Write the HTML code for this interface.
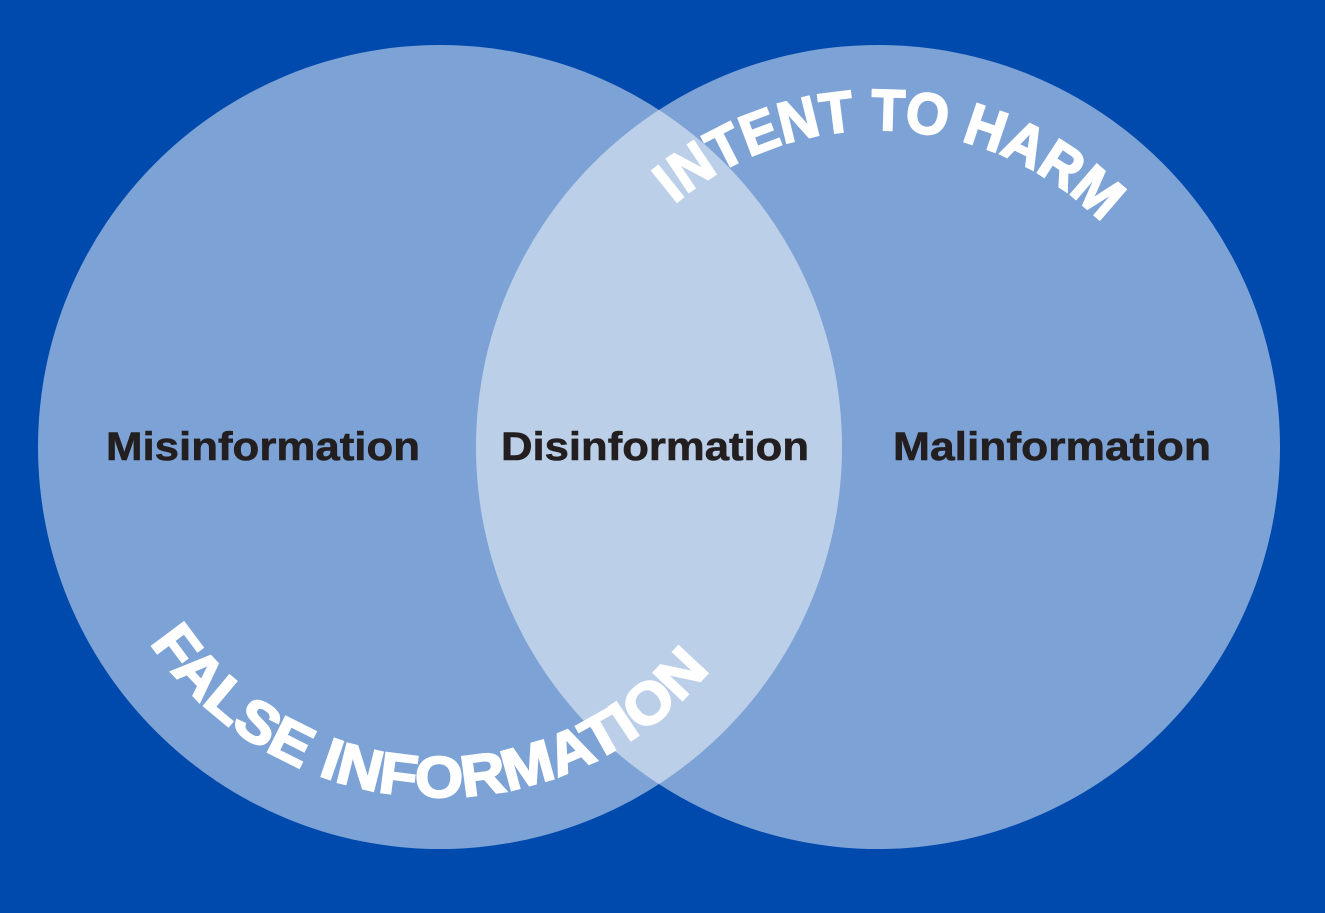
<!DOCTYPE html>
<html><head><meta charset="utf-8"><style>
html,body{margin:0;padding:0;background:#004aad;}
svg{display:block;}
</style></head><body>
<svg width="1325" height="913" viewBox="0 0 1325 913" xmlns="http://www.w3.org/2000/svg">
<rect width="1325" height="913" fill="#004aad"/>
<circle cx="440" cy="447" r="402" fill="#fff" fill-opacity="0.49"/>
<circle cx="878" cy="447" r="402" fill="#fff" fill-opacity="0.49"/>
<defs>
<path id="top" d="M674.2,204.2 A317,317 0 0 1 1106,226.8"/>
<path id="bot" d="M149.8,642.7 A350,350 0 0 0 712,667.3"/>
</defs>
<g font-family="Liberation Sans, sans-serif" font-weight="bold" fill="#fff" stroke="#fff" stroke-width="2" font-size="58">
<text><textPath href="#top" textLength="470" lengthAdjust="spacingAndGlyphs">INTENT TO HARM</textPath></text>
<text><textPath href="#bot" textLength="650" lengthAdjust="spacingAndGlyphs">FALSE INFORMATION</textPath></text>
</g>
<g font-family="Liberation Sans, sans-serif" font-weight="bold" fill="#231f20" stroke="#231f20" stroke-width="0.6" font-size="40" text-anchor="middle">
<text x="263" y="460" textLength="314" lengthAdjust="spacingAndGlyphs">Misinformation</text>
<text x="655" y="460" textLength="308" lengthAdjust="spacingAndGlyphs">Disinformation</text>
<text x="1052" y="460" textLength="318" lengthAdjust="spacingAndGlyphs">Malinformation</text>
</g>
</svg>
</body></html>
